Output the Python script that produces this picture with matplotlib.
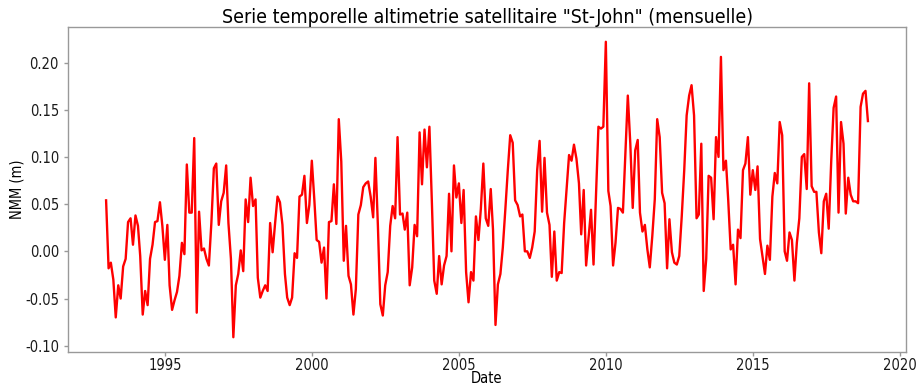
import matplotlib
matplotlib.use("Agg")
import matplotlib.pyplot as plt
import matplotlib.dates as mdates
from matplotlib import font_manager
import numpy as np
import pandas as pd

# Monthly mean sea level anomaly (m) from satellite altimetry, St-John
start_month = "1993-01-01"

nmm_1993_1995 = [
    0.054, -0.018, -0.012, -0.030, -0.070, -0.036, -0.050, -0.016, -0.008, 0.031, 0.035, 0.007,
    0.038, 0.027, -0.005, -0.067, -0.042, -0.057, -0.008, 0.007, 0.031, 0.032, 0.052, 0.027,
    -0.009, 0.028, -0.036, -0.062, -0.052, -0.043, -0.026, 0.009, -0.003, 0.092, 0.041, 0.041,
]
nmm_1996_1998 = [
    0.120, -0.065, 0.042, 0.001, 0.003, -0.008, -0.015, 0.030, 0.088, 0.093, 0.028, 0.053,
    0.062, 0.091, 0.030, -0.008, -0.091, -0.036, -0.024, 0.001, -0.021, 0.055, 0.031, 0.078,
    0.048, 0.055, -0.028, -0.049, -0.042, -0.036, -0.042, 0.030, -0.001, 0.029, 0.058, 0.052,
]
nmm_1999_2001 = [
    0.028, -0.024, -0.049, -0.057, -0.049, -0.002, -0.007, 0.058, 0.060, 0.080, 0.030, 0.049,
    0.096, 0.055, 0.012, 0.010, -0.012, 0.004, -0.050, 0.031, 0.032, 0.071, 0.029, 0.140,
    0.095, -0.010, 0.027, -0.026, -0.035, -0.067, -0.040, 0.039, 0.049, 0.068, 0.072, 0.074,
]
nmm_2002_2004 = [
    0.058, 0.036, 0.099, 0.027, -0.056, -0.068, -0.036, -0.022, 0.027, 0.048, 0.035, 0.121,
    0.039, 0.040, 0.023, 0.041, -0.036, -0.017, 0.028, 0.016, 0.126, 0.071, 0.129, 0.089,
    0.132, 0.051, -0.031, -0.045, -0.005, -0.035, -0.015, -0.005, 0.061, 0.000, 0.091, 0.057,
]
nmm_2005_2007 = [
    0.072, 0.030, 0.065, -0.022, -0.054, -0.022, -0.031, 0.037, 0.012, 0.045, 0.093, 0.035,
    0.027, 0.066, 0.023, -0.078, -0.035, -0.024, 0.004, 0.044, 0.086, 0.123, 0.115, 0.054,
    0.049, 0.037, 0.039, 0.000, 0.000, -0.007, 0.004, 0.021, 0.086, 0.117, 0.042, 0.099,
]
nmm_2008_2010 = [
    0.041, 0.028, -0.027, 0.021, -0.031, -0.022, -0.023, 0.030, 0.066, 0.102, 0.096, 0.113,
    0.098, 0.072, 0.018, 0.065, -0.015, 0.015, 0.044, -0.014, 0.060, 0.132, 0.130, 0.132,
    0.222, 0.064, 0.048, -0.015, 0.009, 0.046, 0.045, 0.041, 0.104, 0.165, 0.114, 0.046,
]
nmm_2011_2013 = [
    0.107, 0.118, 0.041, 0.021, 0.028, 0.002, -0.017, 0.016, 0.055, 0.140, 0.121, 0.062,
    0.051, -0.018, 0.034, -0.001, -0.012, -0.014, -0.005, 0.037, 0.086, 0.144, 0.165, 0.176,
    0.144, 0.035, 0.039, 0.114, -0.042, -0.008, 0.080, 0.078, 0.034, 0.121, 0.100, 0.206,
]
nmm_2014_2016 = [
    0.086, 0.096, 0.055, 0.002, 0.007, -0.035, 0.023, 0.014, 0.086, 0.093, 0.121, 0.060,
    0.086, 0.065, 0.090, 0.013, -0.005, -0.024, 0.006, -0.009, 0.058, 0.083, 0.072, 0.137,
    0.123, 0.000, -0.010, 0.020, 0.012, -0.031, 0.009, 0.035, 0.100, 0.103, 0.066, 0.178,
]
nmm_2017_2018 = [
    0.069, 0.063, 0.063, 0.020, -0.002, 0.053, 0.061, 0.024, 0.095, 0.152, 0.164, 0.041,
    0.137, 0.114, 0.040, 0.078, 0.060, 0.053, 0.053, 0.051, 0.153, 0.167, 0.170, 0.138,
]

nmm = np.concatenate([
    nmm_1993_1995, nmm_1996_1998, nmm_1999_2001, nmm_2002_2004, nmm_2005_2007,
    nmm_2008_2010, nmm_2011_2013, nmm_2014_2016, nmm_2017_2018,
])
dates = pd.date_range(start_month, periods=len(nmm), freq="MS")

# Narrow face for all text when available
has_condensed = any("Condensed" in f.name or f.stretch in ("condensed", "semi-condensed")
                    for f in font_manager.fontManager.ttflist if f.name.startswith("DejaVu Sans"))
plt.rcParams["font.family"] = ["DejaVu Sans"]
if has_condensed:
    plt.rcParams["font.stretch"] = "condensed"

fig = plt.figure(figsize=(9.17, 3.90), dpi=100)
ax = fig.add_axes([68 / 917, 1 - 352 / 390, (906 - 68) / 917, (352 - 27) / 390])

ax.plot(dates, nmm, color="red", linewidth=1.7)

ax.xaxis.set_major_locator(mdates.YearLocator(5))
ax.xaxis.set_major_formatter(mdates.DateFormatter("%Y"))
ax.set_yticks([-0.10, -0.05, 0.00, 0.05, 0.10, 0.15, 0.20])
ax.yaxis.set_major_formatter(matplotlib.ticker.FormatStrFormatter("%.2f"))

for side in ax.spines.values():
    side.set_color("#999999")
    side.set_linewidth(1.0)
ax.tick_params(axis="both", colors="#999999", labelcolor="#1a1a1a",
               labelsize=10.5, length=3, width=1)
ax.tick_params(axis="x", pad=1)

title_size = 14 if has_condensed else 12.7
ax.set_title('Serie temporelle altimetrie satellitaire "St-John" (mensuelle)',
             fontsize=title_size, pad=3)
ax.set_xlabel("Date", fontsize=10.5, labelpad=-1)
ax.set_ylabel("NMM (m)", fontsize=10.5, labelpad=0)

fig.savefig("out.png", dpi=100)
